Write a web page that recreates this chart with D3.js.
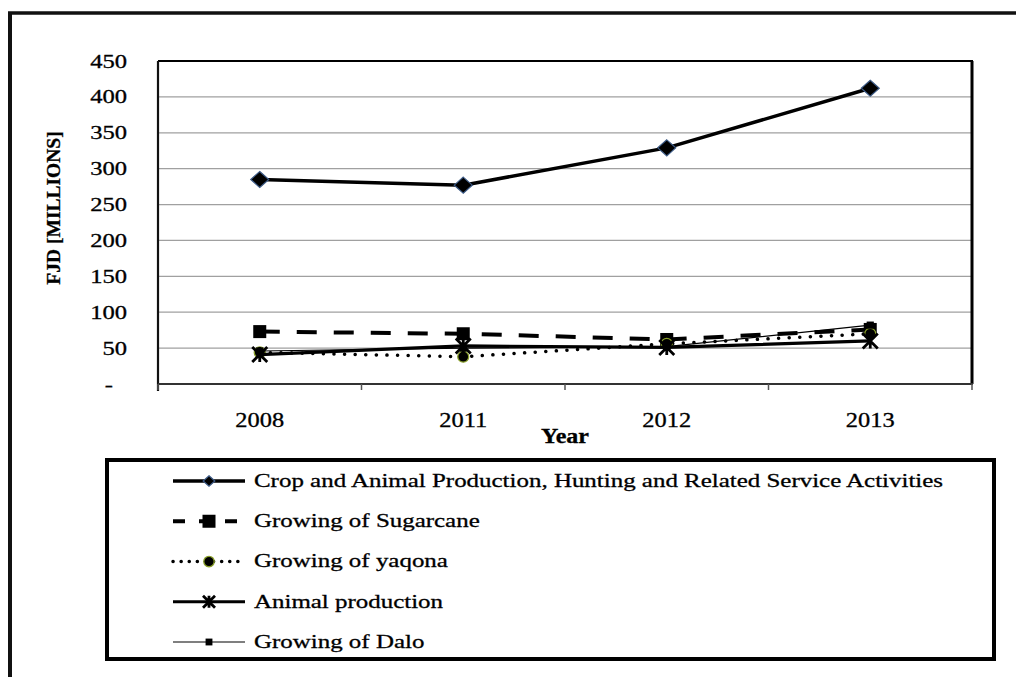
<!DOCTYPE html>
<html>
<head>
<meta charset="utf-8">
<script src="https://cdn.jsdelivr.net/npm/d3@7"></script>
<style>
  html, body { margin: 0; padding: 0; background: #fff; }
  svg { display: block; }
  text { font-family: "Liberation Serif", "Times New Roman", serif; fill: #000; stroke: #000; stroke-width: 0.3; }
</style>
</head>
<body>
<svg id="chart" width="1016" height="677"></svg>
<script>
// ---- data ----
const years = ["2008", "2011", "2012", "2013"];
const cropAnimal = [285, 277, 329, 412];
const sugarcane = [73, 70, 62, 76];
const yaqona = [44, 38, 56, 70];
const animalProd = [41, 53, 51, 60];
const dalo = [46, 50, 52, 82];
const yTickValues = [0, 50, 100, 150, 200, 250, 300, 350, 400, 450];
const seriesNames = [
  "Crop and Animal Production, Hunting and Related Service Activities",
  "Growing of Sugarcane",
  "Growing of yaqona",
  "Animal production",
  "Growing of Dalo"
];

// ---- styles per series (kept separate from data) ----
const seriesValues = [cropAnimal, sugarcane, yaqona, animalProd, dalo];
const styles = [
  { width: 3.5, dash: null, marker: "diamond", cap: "butt" },
  { width: 4, dash: "20,17", marker: "square", cap: "butt" },
  { width: 3.5, dash: "0.1,10.5", marker: "circle", cap: "round" },
  { width: 3.2, dash: null, marker: "asterisk", cap: "butt" },
  { width: 1.2, dash: null, marker: "smallsquare", cap: "butt" }
];

const svg = d3.select("#chart");

// outer frame
svg.append("line").attr("x1", 10).attr("x2", 10).attr("y1", 12).attr("y2", 677)
  .attr("stroke", "#111").attr("stroke-width", 4);
svg.append("line").attr("x1", 8).attr("x2", 1016).attr("y1", 13).attr("y2", 13)
  .attr("stroke", "#111").attr("stroke-width", 3.5);

const L = 158, R = 972, T = 61, B = 384;
const x = d3.scaleBand().domain(years).range([L, R]).paddingInner(0).paddingOuter(0);
const y = d3.scaleLinear().domain([0, 450]).range([B, T]);
const cx = d => x(d) + x.bandwidth() / 2;

// gridlines
const grid = svg.append("g");
grid.selectAll("line").data(yTickValues.filter(v => v > 0 && v < 450)).join("line")
  .attr("x1", L).attr("x2", R).attr("y1", d => y(d)).attr("y2", d => y(d))
  .attr("stroke", "#a0a0a0").attr("stroke-width", 1.2);

// plot border top/right
svg.append("line").attr("x1", L).attr("x2", R + 1).attr("y1", T).attr("y2", T)
  .attr("stroke", "#000").attr("stroke-width", 2);
svg.append("line").attr("x1", R).attr("x2", R).attr("y1", T).attr("y2", B)
  .attr("stroke", "#000").attr("stroke-width", 3);

// y axis
const yAxis = svg.append("g").attr("transform", `translate(${L},0)`)
  .call(d3.axisLeft(y).tickValues(yTickValues).tickSize(0).tickPadding(0)
    .tickFormat(d => d === 0 ? "-" : d3.format("d")(d)));
yAxis.select(".domain").attr("stroke", "#111").attr("stroke-width", 2.2)
  .attr("d", `M0,${T}V${B + 7}`);
yAxis.selectAll(".tick text")
  .attr("font-family", "Liberation Serif, serif").attr("font-size", 18.5)
  .attr("fill", "#000")
  .attr("x", d => d === 0 ? -45 / 1.33 : -31 / 1.33)
  .attr("dy", "0.33em")
  .attr("transform", "scale(1.33,1)");

// x axis
const xAxis = svg.append("g").attr("transform", `translate(0,${B})`)
  .call(d3.axisBottom(x).tickSize(0).tickPadding(0));
xAxis.select(".domain").attr("stroke", "#333").attr("stroke-width", 2.2)
  .attr("d", `M${L},0H${R + 1}`);
xAxis.selectAll(".tick text")
  .attr("font-family", "Liberation Serif, serif").attr("font-size", 20)
  .attr("fill", "#000")
  .attr("y", 43).attr("dy", 0)
  .attr("transform", "scale(1.22,1)")
  .attr("x", 0);
xAxis.selectAll(".tick").attr("transform", d => `translate(${cx(d)},0)`);
// boundary ticks
const bounds = years.map(d => x(d)).concat([R]);
xAxis.selectAll("line.bound").data(bounds).join("line").attr("class", "bound")
  .attr("x1", d => d).attr("x2", d => d).attr("y1", 0).attr("y2", 6)
  .attr("stroke", "#555").attr("stroke-width", 1.5);

// axis titles
svg.append("text").attr("x", 565 / 1.2).attr("y", 443)
  .attr("transform", "scale(1.2,1)")
  .attr("text-anchor", "middle").attr("font-weight", "bold").attr("font-size", 20)
  .text("Year");
svg.append("text")
  .attr("transform", "translate(60,208) rotate(-90)")
  .attr("text-anchor", "middle").attr("font-weight", "bold").attr("font-size", 19.5)
  .text("FJD [MILLIONS]");

// marker drawer (k = scale factor)
function drawMarker(sel, type, k) {
  if (type === "diamond") {
    const w = 9 * k, h = 8 * k;
    sel.append("path").attr("d", `M0,${-h}L${w},0L0,${h}L${-w},0Z`)
      .attr("fill", "#000").attr("stroke", "#3c5a86").attr("stroke-width", 1.2);
  } else if (type === "square") {
    const s = 6.5 * k;
    sel.append("rect").attr("x", -s).attr("y", -s).attr("width", 2 * s).attr("height", 2 * s)
      .attr("fill", "#000");
  } else if (type === "circle") {
    sel.append("circle").attr("r", 5.5 * k).attr("fill", "#000")
      .attr("stroke", "#8aa02a").attr("stroke-width", 1.3);
  } else if (type === "asterisk") {
    const s = 7.5 * k;
    sel.append("path").attr("d", `M${-s},${-s}L${s},${s}M${-s},${s}L${s},${-s}M0,${-s}V${s}`)
      .attr("stroke", "#000").attr("stroke-width", 2.8).attr("fill", "none");
  } else if (type === "smallsquare") {
    const s = 3.6 * k;
    sel.append("rect").attr("x", -s).attr("y", -s).attr("width", 2 * s).attr("height", 2 * s)
      .attr("fill", "#000");
  }
}

// series lines
const line = d3.line().x((d, i) => cx(years[i])).y(d => y(d));
seriesValues.forEach((vals, k) => {
  const st = styles[k];
  const p = svg.append("path").datum(vals).attr("d", line)
    .attr("fill", "none").attr("stroke", "#000").attr("stroke-width", st.width)
    .attr("stroke-linecap", st.cap).attr("stroke-linejoin", "round");
  if (st.dash) p.attr("stroke-dasharray", st.dash);
  vals.forEach((v, i) => {
    const g = svg.append("g").attr("transform", `translate(${cx(years[i])},${y(v)})`);
    drawMarker(g, st.marker, 1);
  });
});

// legend
svg.append("rect").attr("x", 107).attr("y", 460).attr("width", 887).attr("height", 199)
  .attr("fill", "none").attr("stroke", "#000").attr("stroke-width", 4);
const rowY = d3.scalePoint().domain(seriesNames).range([481, 642]);
const legendMarkerScale = [0.65, 1, 0.95, 0.8, 0.95];
seriesNames.forEach((name, k) => {
  const st = styles[k];
  const yy = rowY(name);
  const p = svg.append("line").attr("x1", 173).attr("x2", 245).attr("y1", yy).attr("y2", yy)
    .attr("stroke", "#000").attr("stroke-width", st.width).attr("stroke-linecap", st.cap);
  if (st.dash) p.attr("stroke-dasharray", k === 1 ? "12,14" : "0.1,8");
  const g = svg.append("g").attr("transform", `translate(209,${yy})`);
  drawMarker(g, st.marker, legendMarkerScale[k]);
  svg.append("text").attr("x", 254 / 1.28).attr("y", yy + 6)
    .attr("transform", "scale(1.28,1)")
    .attr("font-size", 19.5).text(name);
});
</script>
</body>
</html>
